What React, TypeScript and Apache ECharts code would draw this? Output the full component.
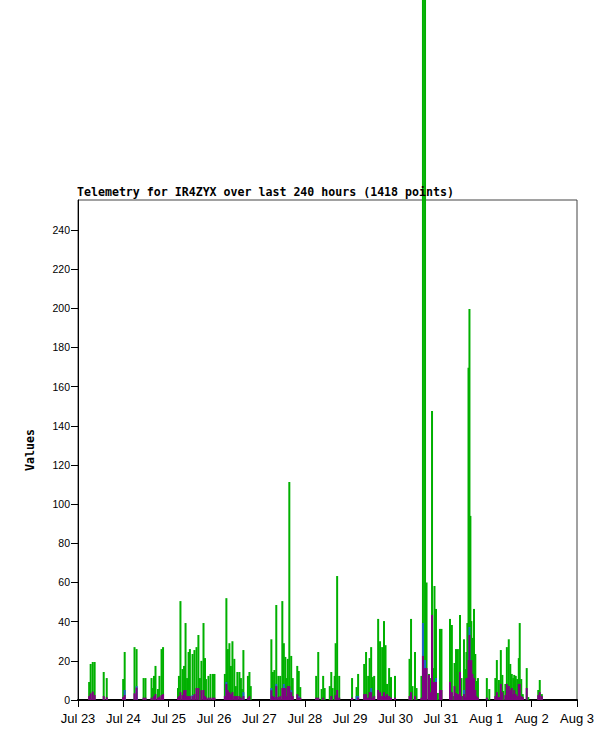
import React, { useEffect, useRef } from "react";
import * as echarts from "echarts";

// x values are hours since Jul 23 00:00
const tickLabels = ["Jul 23", "Jul 24", "Jul 25", "Jul 26", "Jul 27", "Jul 28", "Jul 29", "Jul 30", "Jul 31", "Aug 1", "Aug 2", "Aug 3"];
const yTicks = [0, 20, 40, 60, 80, 100, 120, 140, 160, 180, 200, 220, 240];

const greenData: [number, number][] = [
  [5.9, 9.2], [6.7, 18.4], [7.8, 19.4], [8.8, 19.4], [13.6, 14.3], [15.2, 11.2], [23.9, 10.7], [24.7, 24.5], [29.9, 27], [31.0, 26],
  [34.7, 11.2], [35.7, 11.2], [38.9, 11.2], [39.7, 6.1], [40.2, 12.3], [41.0, 17.4], [42.3, 5.6], [43.1, 12.3], [44.2, 26], [45.0, 27],
  [52.9, 6.1], [53.4, 12.3], [54.2, 50.5], [55.3, 15.8], [56.1, 17.4], [56.9, 39.3], [57.7, 11.2], [58.5, 24.5], [59.2, 26], [60.6, 23.5],
  [61.6, 25.5], [62.7, 27], [63.7, 33.2], [64.5, 11.2], [65.3, 20], [66.4, 39.3], [67.2, 21.4], [67.7, 10.7], [69.0, 12.3], [70.1, 13.3],
  [71.4, 13.3], [72.2, 13.3],
  [77.7, 13.3], [78.5, 52], [79.3, 26], [80.1, 29], [80.9, 17.4], [81.7, 30], [82.7, 21], [83.5, 7.1], [84.3, 14.3], [85.4, 14.3],
  [86.2, 11.2], [86.7, 5.6], [87.5, 25.5], [89.9, 12.3], [90.7, 14.3], [91.4, 7.1],
  [102.3, 31], [103.1, 14.3], [103.9, 15.3], [104.9, 48.5], [106.0, 12.3], [107.0, 12.3], [108.1, 50.5], [108.9, 29], [109.7, 22],
  [110.5, 11.2], [111.0, 21], [111.8, 111.3], [112.8, 22.5], [113.6, 11.2], [116.0, 17.4], [116.8, 14.8], [117.6, 6.6],
  [126.0, 12.3], [127.1, 24.5], [128.9, 5.6], [129.7, 12.3], [130.5, 6.1], [133.2, 7.1], [134.0, 14.3], [134.7, 6.1], [135.8, 12.3],
  [136.3, 29], [137.1, 63.3], [138.2, 12.3], [145.0, 11.2], [147.4, 6.6], [148.2, 13.3], [151.4, 18.4], [152.4, 24.5], [153.5, 12.3],
  [154.3, 21.4], [155.1, 27], [155.9, 11.7], [156.7, 12.3], [158.8, 41.4], [159.8, 30], [160.9, 27], [161.9, 40.3], [162.7, 28],
  [163.5, 8.2], [164.6, 16.3], [165.6, 11.7], [167.7, 12.3],
  [175.4, 21], [176.2, 41.4], [177.0, 7.1], [178.3, 24.5], [179.1, 6.1], [181.7, 12.3], [182.5, 380], [183.6, 380], [184.4, 60],
  [185.7, 13.3], [186.5, 11.2], [187.3, 147.6], [188.1, 16.3], [188.6, 58.2], [189.4, 46.5], [190.4, 3.6], [191.5, 36.3], [192.3, 36.3],
  [196.8, 41.4], [197.8, 38.3], [198.6, 2], [199.2, 18.9], [200.0, 26], [201.0, 26], [202.1, 43.4], [202.9, 11.2], [203.4, 2],
  [204.2, 31], [205.0, 15.8], [205.5, 24.5], [206.0, 39.3], [206.6, 169.6], [207.1, 199.7], [207.6, 94], [208.1, 40.3], [208.7, 31.7],
  [209.5, 46.5], [210.2, 23.5], [210.8, 9.7], [211.6, 11.2], [216.3, 11.2], [217.6, 5.6], [220.8, 11.2], [221.6, 20.4], [222.7, 10.2],
  [223.7, 25.5], [224.5, 12.8], [225.0, 4.6], [226.1, 8.2], [226.9, 27], [227.9, 31], [228.7, 18.4], [229.5, 13.3], [230.3, 11.2],
  [230.8, 12.8], [231.6, 12.3], [232.4, 10.7], [233.2, 21.4], [233.7, 39.3], [234.5, 10.7], [235.3, 3], [237.4, 16.3], [238.2, 1.5],
  [243.5, 5.1], [244.3, 10.2], [245.4, 3],
];

const blueData: [number, number][] = [
  [24.7, 5.1], [31.0, 7.1], [60.6, 2.5], [78.5, 9.2], [87.5, 4], [102.3, 6.1], [104.9, 8.2], [108.9, 8.2], [112.8, 5], [116.8, 2],
  [147.4, 2], [148.2, 2], [155.1, 6.1], [182.5, 39.3], [183.6, 20.4], [189.4, 11.2], [204.2, 5.1], [207.1, 37.3],
];

const purpleData: [number, number][] = [
  [5.9, 2], [6.7, 3.4], [7.8, 4.3], [8.8, 2.5], [13.6, 2], [15.2, 1.4], [23.9, 1.5], [24.7, 2.5], [29.9, 3.4], [31.0, 6.3],
  [34.7, 1.2], [35.7, 1.2], [38.9, 1.2], [40.2, 2], [41.0, 3], [42.3, 1.2], [43.1, 1.7], [44.2, 2.5], [45.0, 3],
  [52.9, 1.2], [53.4, 2], [54.2, 4], [55.3, 2.5], [56.1, 5], [56.9, 5.1], [57.7, 2], [58.5, 2], [59.2, 2], [60.6, 2], [61.6, 3],
  [62.7, 6.1], [63.7, 6.1], [65.3, 5], [66.4, 5.1], [67.2, 2], [67.7, 1.2], [69.0, 1.2], [70.1, 1.2], [71.4, 1.2], [72.2, 1.2],
  [77.7, 2], [78.5, 8.2], [79.3, 5], [80.1, 4], [80.9, 3], [81.7, 4], [82.7, 2], [83.5, 2], [84.3, 2], [85.4, 2], [86.2, 1.2],
  [87.5, 2], [89.9, 1.2], [90.7, 2],
  [102.3, 5], [103.1, 2], [103.9, 1.5], [104.9, 7.1], [106.0, 1.5], [107.0, 2], [108.1, 6.1], [108.9, 6.1], [109.7, 6.1], [110.5, 2],
  [111.0, 7.1], [111.8, 7.1], [112.8, 4], [113.6, 2], [116.0, 3], [116.8, 1.2], [117.6, 1.2],
  [126.0, 1.2], [127.1, 1.2], [129.7, 1.2], [134.0, 2], [136.3, 2.5], [137.1, 5.1], [138.2, 1.2], [145.0, 1.2], [148.2, 1.2],
  [151.4, 3], [152.4, 3], [153.5, 1.2], [154.3, 4], [155.1, 4], [155.9, 1.2], [156.7, 2], [158.8, 5.1], [159.8, 4], [160.9, 2],
  [161.9, 4], [162.7, 2], [163.5, 3], [164.6, 2], [165.6, 1.2], [167.7, 1.2],
  [175.4, 2], [176.2, 4], [178.3, 2], [181.7, 1.2], [182.5, 22.5], [183.6, 16.3], [184.4, 16.3], [185.7, 12.8], [186.5, 4],
  [187.3, 43.4], [188.1, 9.2], [188.6, 9.2], [189.4, 9.2], [191.5, 5.1], [192.3, 5.1],
  [196.8, 9.2], [197.8, 4], [199.2, 7.1], [200.0, 3.6], [201.0, 3], [202.1, 14.3], [202.9, 2], [204.2, 3], [205.0, 1.5],
  [205.5, 11.2], [206.0, 11.2], [206.6, 20.4], [207.1, 33.2], [207.6, 19.4], [208.1, 20.4], [208.7, 13.3], [209.5, 11.2],
  [210.2, 5.1], [210.8, 2], [211.6, 1.2], [216.3, 1.2], [220.8, 2], [221.6, 4], [222.7, 1.5], [223.7, 8.2], [224.5, 4],
  [226.1, 2.5], [226.9, 8.2], [227.9, 7.1], [228.7, 5], [229.5, 6.1], [230.3, 3], [230.8, 5], [231.6, 3], [232.4, 2],
  [233.2, 8.2], [233.7, 8.2], [234.5, 2], [235.3, 1.5], [237.4, 6.1], [243.5, 2.5], [244.3, 4], [245.4, 2],
];

const TITLE = "Telemetry for IR4ZYX over last 240 hours (1418 points)";

export default function App() {
  const ref = useRef<HTMLDivElement>(null);
  useEffect(() => {
    document.body.style.margin = "0";
    const chart = echarts.init(ref.current!, null, { renderer: "svg" });
    const mono = "'DejaVu Sans Mono', 'Liberation Mono', monospace";
    const sans = "'Liberation Sans', 'DejaVu Sans', sans-serif";
    const barSeries = (name: string, data: [number, number][], color: string) => ({
      name,
      type: "bar",
      data,
      barWidth: 2,
      barGap: "-100%",
      clip: false,
      silent: true,
      itemStyle: { color },
      emphasis: { disabled: true },
    });
    chart.setOption({
      animation: false,
      backgroundColor: "#ffffff",
      title: {
        text: TITLE,
        left: 77,
        top: 186,
        padding: 0,
        textStyle: { fontFamily: mono, fontWeight: "bold", fontSize: 11.6, color: "#000" },
      },
      grid: {
        left: 78,
        right: 38,
        top: 200,
        bottom: 41,
        show: true,
        borderColor: "#444",
        borderWidth: 1,
        backgroundColor: "transparent",
      },
      xAxis: {
        type: "value",
        min: 0,
        max: 264,
        interval: 24,
        splitLine: { show: false },
        axisLine: { show: true, onZero: false, lineStyle: { color: "#000", width: 2 } },
        axisTick: { show: true, length: 7, lineStyle: { color: "#000", width: 1 } },
        axisLabel: {
          margin: 12,
          fontFamily: sans,
          fontSize: 13,
          color: "#000",
          formatter: (v: number) => tickLabels[Math.round(v / 24)] ?? "",
        },
      },
      yAxis: {
        type: "value",
        min: 0,
        max: 255.3,
        name: "Values",
        nameLocation: "middle",
        nameRotate: 90,
        nameGap: 42,
        nameTextStyle: { fontFamily: mono, fontWeight: "bold", fontSize: 11.6, color: "#000" },
        splitLine: { show: false },
        axisLine: { show: true, lineStyle: { color: "#000", width: 1 } },
        axisTick: { show: true, length: 7, customValues: yTicks, lineStyle: { color: "#000", width: 1 } },
        axisLabel: {
          customValues: yTicks,
          margin: 8,
          fontFamily: sans,
          fontSize: 10.5,
          color: "#000",
        },
      },
      series: [
        barSeries("green", greenData, "#00b000"),
        barSeries("blue", blueData, "#1e64c8"),
        barSeries("purple", purpleData, "#800080"),
      ],
    });
    return () => chart.dispose();
  }, []);
  return (
    <div
      ref={ref}
      style={{ position: "fixed", left: 0, top: 0, width: 615, height: 741 }}
    />
  );
}
